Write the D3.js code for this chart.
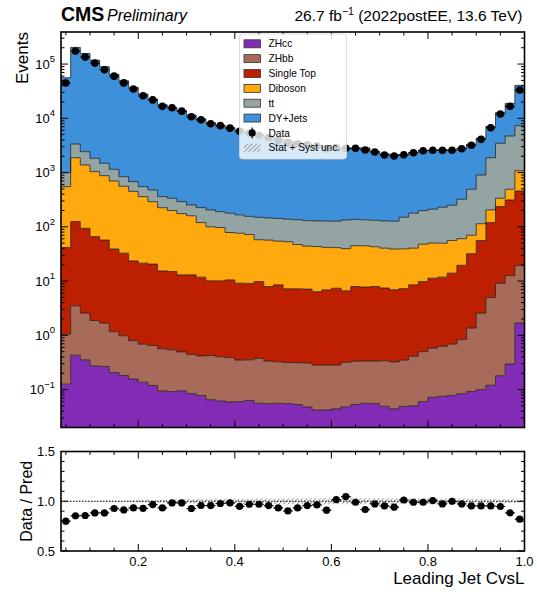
<!DOCTYPE html>
<html>
<head>
<meta charset="utf-8">
<script src="https://cdn.jsdelivr.net/npm/d3@7"></script>
<style>
body{margin:0;background:#fff;}
svg{font-family:"Liberation Sans", Arial, sans-serif;}
</style>
</head>
<body>
<div id="chart"></div>
<script>
// bin edges of Leading Jet CvsL
var binEdges = [0.04,0.06,0.08,0.10,0.12,0.14,0.16,0.18,0.20,0.22,0.24,0.26,0.28,0.30,0.32,0.34,0.36,0.38,0.40,0.42,0.44,0.46,0.48,0.50,
                0.52,0.54,0.56,0.58,0.60,0.62,0.64,0.66,0.68,0.70,0.72,0.74,0.76,0.78,0.80,0.82,0.84,0.86,0.88,0.90,0.92,0.94,0.96,0.98,1.00];

var processes = ["ZHcc","ZHbb","Single Top","Diboson","tt","DY+Jets"];
var procColors = ["#832db6","#a96b59","#bd1f01","#ffa90e","#94a4a2","#3f90da"];

var zhcc = [0.126,0.43,0.354,0.274,0.267,0.206,0.182,0.156,0.137,0.119,0.095,0.092,0.095,0.084,0.078,0.065,0.062,0.059,0.060,0.063,0.056,0.055,0.056,0.055,
            0.053,0.048,0.042,0.042,0.044,0.048,0.053,0.056,0.055,0.049,0.044,0.049,0.050,0.060,0.072,0.075,0.078,0.084,0.092,0.100,0.120,0.180,0.295,1.68];
var zhbb = [0.92,3.07,2.21,1.60,1.41,0.96,0.80,0.64,0.55,0.53,0.47,0.45,0.40,0.36,0.34,0.36,0.34,0.33,0.29,0.29,0.32,0.28,0.27,0.26,
            0.26,0.26,0.24,0.24,0.24,0.27,0.28,0.28,0.28,0.29,0.28,0.30,0.36,0.44,0.51,0.55,0.61,0.75,1.27,2.46,4.85,8.92,12.3,17.6];
var singleTop = [40.4,121.5,91.4,64.1,55.3,37.8,31.7,22.7,20.7,19.9,14.8,14.5,12.5,12.6,11.4,9.7,9.7,10.1,8.8,8.7,9.4,7.6,8.2,6.9,
                 6.9,6.8,6.1,6.6,7.1,6.3,7.6,7.4,7.6,7.1,6.6,6.9,8.1,9.3,10.7,11.2,13.3,18.7,30.6,53.4,115,227,300,439];
var diboson = [509,1755,1286,974,820,661,527,427,339,270,210,185,162,147,108,90,87,68,67,63,48,49,46,46,
               40,37,37,35,34,33,37,37,35,33,32,32,32,38,39,38,42,41,38,58,85,100,179,625];
var ttbar = [445,1480,1047,794,606,448,280,230,190,188,135,136,116,93,106,105,93,100,90,84,92,89,88,85,
             88,86,85,86,86,94,92,90,89,88,88,111,138,151,161,180,194,262,422,789,1675,3129,4228,6227];
var dyJets = [55005,199640,154573,116166,87517,63452,48460,36520,27450,22122,17440,15564,13509,11247,9574,8095,7310,6522,5934,5344,4850,4454,4108,3812,
              3515,3270,3072,2872,2723,2541,2694,2712,2329,2086,2022,1960,2170,2357,2346,2416,2325,2509,2850,3399,5161,9205,14110,33180];
var dataCounts = [44800,173200,134500,104200,78600,59900,45000,34700,26000,21850,16610,15630,13570,10660,9380,7940,7330,6590,5780,5335,4850,4400,3965,3567,
                  3405,3254,3082,2730,2898,2800,2802,2610,2395,2110,2020,2137,2325,2530,2575,2575,2575,2755,3185,4100,6710,12000,16630,33200];
// relative stat+syst uncertainty of the prediction
var relUnc = [0.004,0.003,0.003,0.004,0.004,0.005,0.006,0.007,0.009,0.012,0.015,0.017,0.019,0.021,0.022,0.023,0.024,0.025,0.026,0.026,0.027,0.028,0.028,0.029,
              0.029,0.030,0.030,0.030,0.030,0.031,0.030,0.030,0.030,0.031,0.031,0.030,0.030,0.029,0.029,0.028,0.028,0.027,0.026,0.025,0.022,0.020,0.018,0.015];

var xTickLabels = [0.2,0.4,0.6,0.8,1.0];
var ratioTickLabels = [0.5,1.0,1.5];

var W = 537, H = 595;
var left = 61, right = 524.5;
var mainTop = 32, mainBottom = 427.5;
var ratTop = 451.5, ratBottom = 551;

var x = d3.scaleLinear().domain([0.04, 1.0]).range([left, right]);
var y = d3.scaleLog().domain([0.02, 3.9e5]).range([mainBottom, mainTop]);
var yr = d3.scaleLinear().domain([0.5, 1.5]).range([ratBottom, ratTop]);

var svg = d3.select("#chart").append("svg")
    .attr("width", W).attr("height", H);

var defs = svg.append("defs");
var hatch = defs.append("pattern")
    .attr("id", "hatch").attr("patternUnits", "userSpaceOnUse")
    .attr("width", 4.5).attr("height", 4.5);
hatch.append("path")
    .attr("d", "M-1,1 l2,-2 M0,4.5 l4.5,-4.5 M3.5,5.5 l2,-2")
    .attr("stroke", "#666").attr("stroke-width", 0.8);
defs.append("clipPath").attr("id", "clipMain").append("rect")
    .attr("x", left).attr("y", mainTop).attr("width", right - left).attr("height", mainBottom - mainTop);
defs.append("clipPath").attr("id", "clipRat").append("rect")
    .attr("x", left).attr("y", ratTop).attr("width", right - left).attr("height", ratBottom - ratTop);

// rows per bin
var series = [zhcc, zhbb, singleTop, diboson, ttbar, dyJets];
var rows = dataCounts.map(function(d, i) {
    var r = {lo: binEdges[i], hi: binEdges[i+1], data: d, unc: relUnc[i]};
    processes.forEach(function(p, k) { r[p] = series[k][i]; });
    return r;
});
var stacked = d3.stack().keys(processes)(rows);
var totals = rows.map(function(r) { return d3.sum(processes, function(p) { return r[p]; }); });

function yc(v) { return y(Math.max(v, 0.02)); }

function stepPts(layer) {
    var pts = [];
    layer.forEach(function(d, i) {
        pts.push({x: rows[i].lo, y0: d[0], y1: d[1]});
        pts.push({x: rows[i].hi, y0: d[0], y1: d[1]});
    });
    return pts;
}

var area = d3.area()
    .x(function(d) { return x(d.x); })
    .y0(function(d) { return yc(d.y0); })
    .y1(function(d) { return yc(d.y1); });
var edge = d3.line()
    .x(function(d) { return x(d.x); })
    .y(function(d) { return yc(d.y1); });

var gMain = svg.append("g").attr("clip-path", "url(#clipMain)");

gMain.selectAll("path.layer")
    .data(stacked)
    .enter().append("path")
    .attr("class", "layer")
    .attr("d", function(l) { return area(stepPts(l)); })
    .attr("fill", function(l, i) { return procColors[i]; });

gMain.selectAll("path.edge")
    .data(stacked)
    .enter().append("path")
    .attr("class", "edge")
    .attr("d", function(l) { return edge(stepPts(l)); })
    .attr("fill", "none")
    .attr("stroke", "#1a1a1a")
    .attr("stroke-opacity", 0.75)
    .attr("stroke-width", 1);

// uncertainty band on the total
var bandPts = [];
rows.forEach(function(r, i) {
    bandPts.push({x: r.lo, lo: totals[i] * (1 - r.unc), hi: totals[i] * (1 + r.unc)});
    bandPts.push({x: r.hi, lo: totals[i] * (1 - r.unc), hi: totals[i] * (1 + r.unc)});
});
gMain.append("path")
    .attr("d", d3.area()
        .x(function(d) { return x(d.x); })
        .y0(function(d) { return y(d.lo); })
        .y1(function(d) { return y(d.hi); })(bandPts))
    .attr("fill", "url(#hatch)");

// data points
var gData = gMain.append("g");
rows.forEach(function(r, i) {
    var cx = x((r.lo + r.hi) / 2);
    var err = Math.sqrt(r.data);
    gData.append("line")
        .attr("x1", x(r.lo)).attr("x2", x(r.hi))
        .attr("y1", y(r.data)).attr("y2", y(r.data))
        .attr("stroke", "#000").attr("stroke-width", 1.2);
    gData.append("line")
        .attr("x1", cx).attr("x2", cx)
        .attr("y1", y(r.data - err)).attr("y2", y(r.data + err))
        .attr("stroke", "#000").attr("stroke-width", 1.2);
    gData.append("circle")
        .attr("cx", cx).attr("cy", y(r.data)).attr("r", 3.8)
        .attr("fill", "#000");
});

// ratio panel
var gRat = svg.append("g").attr("clip-path", "url(#clipRat)");
var rBand = [];
rows.forEach(function(r) {
    rBand.push({x: r.lo, lo: 1 - r.unc, hi: 1 + r.unc});
    rBand.push({x: r.hi, lo: 1 - r.unc, hi: 1 + r.unc});
});
gRat.append("path")
    .attr("d", d3.area()
        .x(function(d) { return x(d.x); })
        .y0(function(d) { return yr(d.lo); })
        .y1(function(d) { return yr(d.hi); })(rBand))
    .attr("fill", "url(#hatch)");
gRat.append("line")
    .attr("x1", left).attr("x2", right)
    .attr("y1", yr(1)).attr("y2", yr(1))
    .attr("stroke", "#000").attr("stroke-width", 1)
    .attr("stroke-dasharray", "1.5,1.5");
rows.forEach(function(r, i) {
    var ratio = r.data / totals[i];
    var rerr = Math.sqrt(r.data) / totals[i];
    var cx = x((r.lo + r.hi) / 2);
    gRat.append("line")
        .attr("x1", x(r.lo)).attr("x2", x(r.hi))
        .attr("y1", yr(ratio)).attr("y2", yr(ratio))
        .attr("stroke", "#000").attr("stroke-width", 1.2);
    gRat.append("line")
        .attr("x1", cx).attr("x2", cx)
        .attr("y1", yr(ratio - rerr)).attr("y2", yr(ratio + rerr))
        .attr("stroke", "#000").attr("stroke-width", 1.2);
    gRat.append("circle")
        .attr("cx", cx).attr("cy", yr(ratio)).attr("r", 3.6)
        .attr("fill", "#000");
});

// ---- ticks (inward, all four sides) ----
var majLen = 7, minLen = 3.5;
var gAx = svg.append("g").attr("stroke", "#000").attr("stroke-width", 1);

function isMajorX(v) { return Math.abs(v / 0.2 - Math.round(v / 0.2)) < 1e-6; }
var xt = x.ticks(20);
[[mainTop, mainBottom], [ratTop, ratBottom]].forEach(function(p) {
    xt.forEach(function(v) {
        var L = isMajorX(v) ? majLen : minLen;
        var px = x(v);
        gAx.append("line").attr("x1", px).attr("x2", px).attr("y1", p[1]).attr("y2", p[1] - L);
        gAx.append("line").attr("x1", px).attr("x2", px).attr("y1", p[0]).attr("y2", p[0] + L);
    });
});

y.ticks().forEach(function(v) {
    var lg = Math.log10(v);
    var maj = Math.abs(lg - Math.round(lg)) < 1e-6;
    var L = maj ? majLen : minLen;
    var py = y(v);
    gAx.append("line").attr("x1", left).attr("x2", left + L).attr("y1", py).attr("y2", py);
    gAx.append("line").attr("x1", right).attr("x2", right - L).attr("y1", py).attr("y2", py);
    if (maj) {
        var t = svg.append("text")
            .attr("x", left - 6).attr("y", py + 4.5)
            .attr("text-anchor", "end")
            .attr("font-size", 13).attr("fill", "#000")
            .text("10");
        t.append("tspan").attr("dy", -6.5).attr("font-size", 9.5)
            .text(String(Math.round(lg)).replace("-", "\u2212"));
    }
});

yr.ticks(10).forEach(function(v) {
    var maj = ratioTickLabels.some(function(t) { return Math.abs(t - v) < 1e-6; });
    var L = maj ? majLen : minLen;
    var py = yr(v);
    gAx.append("line").attr("x1", left).attr("x2", left + L).attr("y1", py).attr("y2", py);
    gAx.append("line").attr("x1", right).attr("x2", right - L).attr("y1", py).attr("y2", py);
});
ratioTickLabels.forEach(function(v) {
    svg.append("text")
        .attr("x", left - 6).attr("y", yr(v) + 4.5)
        .attr("text-anchor", "end").attr("font-size", 13)
        .text(d3.format(".1f")(v));
});
xTickLabels.forEach(function(v) {
    svg.append("text")
        .attr("x", x(v)).attr("y", ratBottom + 15)
        .attr("text-anchor", "middle").attr("font-size", 13)
        .text(d3.format(".1f")(v));
});

// frames
[[mainTop, mainBottom], [ratTop, ratBottom]].forEach(function(p) {
    svg.append("rect")
        .attr("x", left).attr("y", p[0])
        .attr("width", right - left).attr("height", p[1] - p[0])
        .attr("fill", "none").attr("stroke", "#000").attr("stroke-width", 1.6);
});

// axis titles
svg.append("text")
    .attr("transform", "translate(28," + mainTop + ") rotate(-90)")
    .attr("text-anchor", "end").attr("font-size", 17)
    .text("Events");
svg.append("text")
    .attr("transform", "translate(32," + ((ratTop + ratBottom) / 2) + ") rotate(-90)")
    .attr("text-anchor", "middle").attr("font-size", 16)
    .text("Data / Pred");
svg.append("text")
    .attr("x", right).attr("y", 584)
    .attr("text-anchor", "end").attr("font-size", 17)
    .text("Leading Jet CvsL");

// header
svg.append("text")
    .attr("x", left).attr("y", 21)
    .attr("font-size", 19.5).attr("font-weight", "bold")
    .text("CMS");
svg.append("text")
    .attr("x", 107).attr("y", 21)
    .attr("font-size", 16).attr("font-style", "italic")
    .text("Preliminary");
var lumi = svg.append("text")
    .attr("x", right - 2).attr("y", 21)
    .attr("text-anchor", "end").attr("font-size", 15.5)
    .text("26.7 fb");
lumi.append("tspan").attr("dy", -6).attr("font-size", 10.5).text("\u22121");
lumi.append("tspan").attr("dy", 6).text(" (2022postEE, 13.6 TeV)");

// legend
var legX = 239.5, legY = 34, legW = 107, legH = 125;
var leg = svg.append("g");
leg.append("rect")
    .attr("x", legX).attr("y", legY).attr("width", legW).attr("height", legH)
    .attr("rx", 3).attr("fill", "#fff").attr("fill-opacity", 0.8)
    .attr("stroke", "#d4d4d4").attr("stroke-width", 0.8);

var legendItems = processes.map(function(p, i) { return {label: p, type: "patch", color: procColors[i]}; });
legendItems.push({label: "Data", type: "data"});
legendItems.push({label: "Stat + Syst unc.", type: "unc"});

legendItems.forEach(function(it, i) {
    var cy = 43.8 + i * 14.85;
    var g = leg.append("g");
    if (it.type === "patch") {
        g.append("rect").attr("x", 244).attr("y", cy - 4).attr("width", 16.5).attr("height", 8)
            .attr("fill", it.color).attr("stroke", "#333").attr("stroke-width", 0.8);
    } else if (it.type === "data") {
        g.append("line").attr("x1", 252.2).attr("x2", 252.2).attr("y1", cy - 5.5).attr("y2", cy + 5.5)
            .attr("stroke", "#000").attr("stroke-width", 1.2);
        g.append("circle").attr("cx", 252.2).attr("cy", cy).attr("r", 3.6).attr("fill", "#000");
    } else {
        g.append("rect").attr("x", 244).attr("y", cy - 4).attr("width", 16.5).attr("height", 8)
            .attr("fill", "url(#hatch)");
    }
    g.append("text")
        .attr("x", 268.5).attr("y", cy + 3.6)
        .attr("font-size", 10.2).attr("fill", "#000")
        .text(it.label);
});
</script>
</body>
</html>
